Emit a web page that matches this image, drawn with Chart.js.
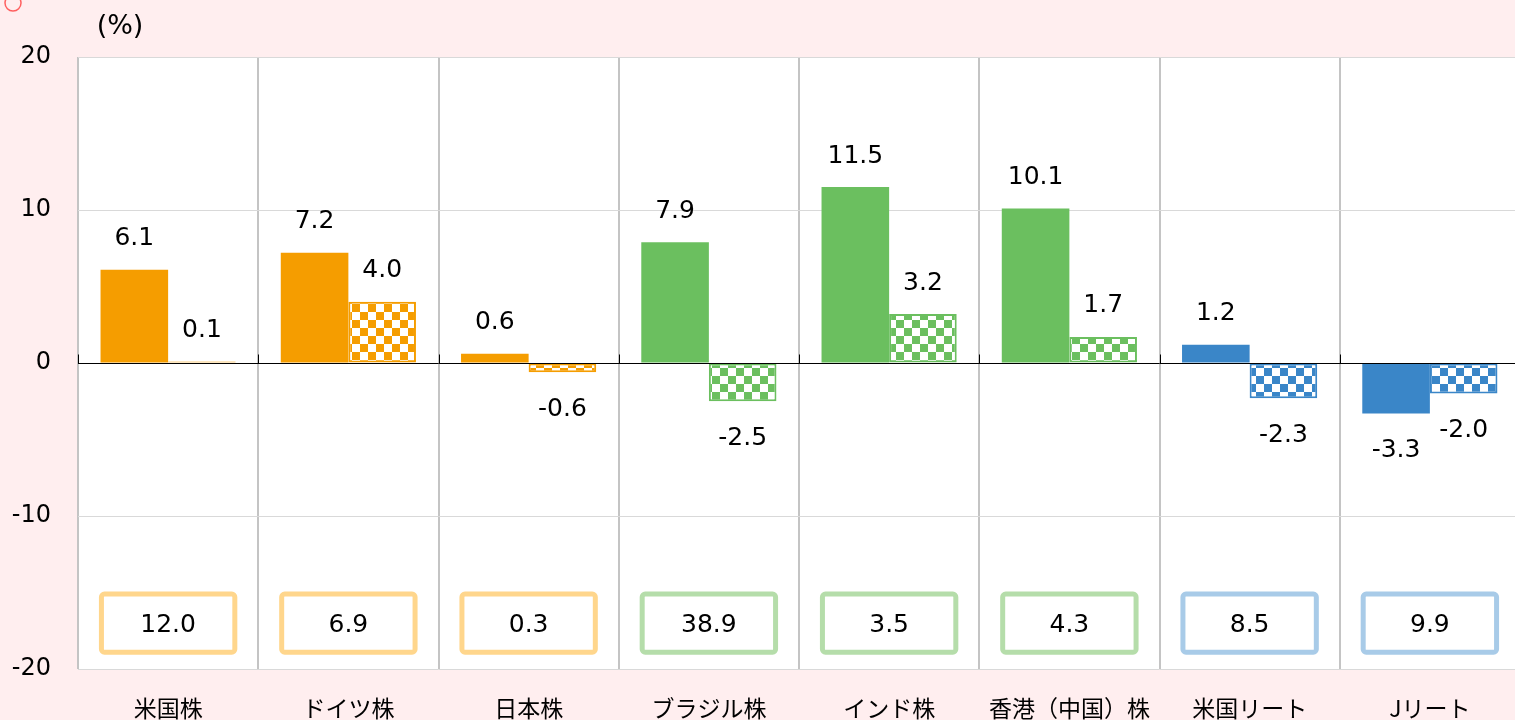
<!DOCTYPE html>
<html>
<head>
<meta charset="utf-8">
<script src="https://cdn.jsdelivr.net/npm/chart.js@4/dist/chart.umd.min.js"></script>
<style>
  html, body { margin: 0; padding: 0; overflow: hidden; background: #FFEEEF; }
  #wrap { width: 1525px; height: 720px; }
</style>
</head>
<body>
<div id="wrap"><canvas id="chart" width="1525" height="720"></canvas></div>
<script>
const categories = ['米国株', 'ドイツ株', '日本株', 'ブラジル株', 'インド株', '香港（中国）株', '米国リート', 'Jリート'];
const seriesA = [6.1, 7.2, 0.6, 7.9, 11.5, 10.1, 1.2, -3.3];
const seriesB = [0.1, 4.0, -0.6, -2.5, 3.2, 1.7, -2.3, -2.0];
const boxValues = [12.0, 6.9, 0.3, 38.9, 3.5, 4.3, 8.5, 9.9];
const yMin = -20;
const yMax = 20;
const yStep = 10;

const ORANGE = '#F59D00';
const GREEN = '#6BBF5F';
const BLUE = '#3A86C8';
const groupColors = [ORANGE, ORANGE, ORANGE, GREEN, GREEN, GREEN, BLUE, BLUE];
const boxColors = { [ORANGE]: '#FFD68C', [GREEN]: '#B5DDAA', [BLUE]: '#A8CBE8' };

const NUM_FONT = '"DejaVu Sans", Verdana, sans-serif';
const JP_FONT = '"Noto Sans CJK JP", sans-serif';

function makeChecker(color) {
  const c = document.createElement('canvas');
  c.width = 16;
  c.height = 16;
  const g = c.getContext('2d');
  g.fillStyle = '#ffffff';
  g.fillRect(0, 0, 16, 16);
  g.fillStyle = color;
  g.fillRect(0, 0, 8, 8);
  g.fillRect(8, 8, 8, 8);
  return g.createPattern(c, 'repeat');
}

const fmt = v => v.toFixed(1);

const decorPlugin = {
  id: 'decor',
  beforeDraw(chart) {
    const { ctx, chartArea: a } = chart;
    ctx.save();
    ctx.fillStyle = '#ffffff';
    ctx.fillRect(a.left, a.top, a.right - a.left, a.bottom - a.top);
    // small red mark in the corner
    ctx.strokeStyle = '#FF5F5F';
    ctx.lineWidth = 1.5;
    ctx.beginPath();
    ctx.arc(13, 3, 8, 0, Math.PI * 2);
    ctx.stroke();
    // unit label
    ctx.fillStyle = '#000';
    ctx.font = '27px ' + NUM_FONT;
    ctx.textAlign = 'center';
    ctx.textBaseline = 'middle';
    ctx.fillText('(%)', 120, 27);
    ctx.restore();
  },
  afterDatasetsDraw(chart) {
    const { ctx, chartArea: a, scales } = chart;
    const x = scales.x;
    const y = scales.y;
    const y0 = Math.round(y.getPixelForValue(0)) + 0.5;
    ctx.save();
    // zero line with tick marks
    ctx.strokeStyle = '#000';
    ctx.lineWidth = 1;
    ctx.beginPath();
    ctx.moveTo(a.left, y0);
    ctx.lineTo(a.right, y0);
    const step = (a.right - a.left) / categories.length;
    for (let i = 0; i <= categories.length; i++) {
      const px = Math.round(a.left + i * step) + 0.5;
      ctx.moveTo(px, y0 - 9);
      ctx.lineTo(px, y0);
    }
    ctx.stroke();

    // value labels
    ctx.fillStyle = '#000';
    ctx.font = '25px ' + NUM_FONT;
    ctx.textAlign = 'center';
    ctx.textBaseline = 'middle';
    chart.data.datasets.forEach((ds, di) => {
      chart.getDatasetMeta(di).data.forEach((bar, i) => {
        const v = ds.data[i];
        const ty = v >= 0 ? bar.y - 31 : bar.y + 37;
        ctx.fillText(fmt(v), bar.x, ty);
      });
    });

    // boxes under each group
    const top = y.getPixelForValue(-15.1);
    const bottom = y.getPixelForValue(-18.9);
    const w = step * 0.74;
    ctx.lineWidth = 5;
    ctx.lineJoin = 'round';
    boxValues.forEach((v, i) => {
      const cx = x.getPixelForValue(i);
      ctx.strokeStyle = boxColors[groupColors[i]];
      ctx.fillStyle = '#ffffff';
      ctx.beginPath();
      ctx.roundRect(cx - w / 2, top, w, bottom - top, 3);
      ctx.fill();
      ctx.stroke();
      ctx.fillStyle = '#000';
      ctx.fillText(fmt(v), cx, (top + bottom) / 2 + 2);
    });
    ctx.restore();
  }
};

new Chart(document.getElementById('chart'), {
  type: 'bar',
  data: {
    labels: categories,
    datasets: [
      {
        label: 'A',
        data: seriesA,
        backgroundColor: groupColors,
        borderWidth: 0
      },
      {
        label: 'B',
        data: seriesB,
        backgroundColor: groupColors.map(makeChecker),
        borderColor: groupColors,
        borderWidth: 2,
        borderSkipped: false
      }
    ]
  },
  options: {
    responsive: false,
    animation: false,
    events: [],
    layout: { padding: { top: 57, right: 5, left: 0, bottom: 0 } },
    datasets: { bar: { categoryPercentage: 0.75, barPercentage: 1.0 } },
    plugins: {
      legend: { display: false },
      tooltip: { enabled: false }
    },
    scales: {
      x: {
        offset: true,
        afterFit(scale) { scale.height = 51; },
        grid: { offset: true, color: '#C4C4C4', lineWidth: 2, drawTicks: false },
        border: { display: false },
        ticks: { color: '#000', padding: 25, font: { family: JP_FONT, size: 23 } }
      },
      y: {
        min: yMin,
        max: yMax,
        afterFit(scale) { scale.width = 78; },
        grid: {
          drawTicks: false,
          color: ctx => (ctx.tick && ctx.tick.value === 0 ? 'rgba(0,0,0,0)' : '#D9D9D9'),
          lineWidth: 1
        },
        border: { display: false },
        ticks: {
          stepSize: yStep,
          color: '#000',
          padding: 27,
          font: { family: NUM_FONT, size: 24 }
        }
      }
    }
  },
  plugins: [decorPlugin]
});
</script>
</body>
</html>
